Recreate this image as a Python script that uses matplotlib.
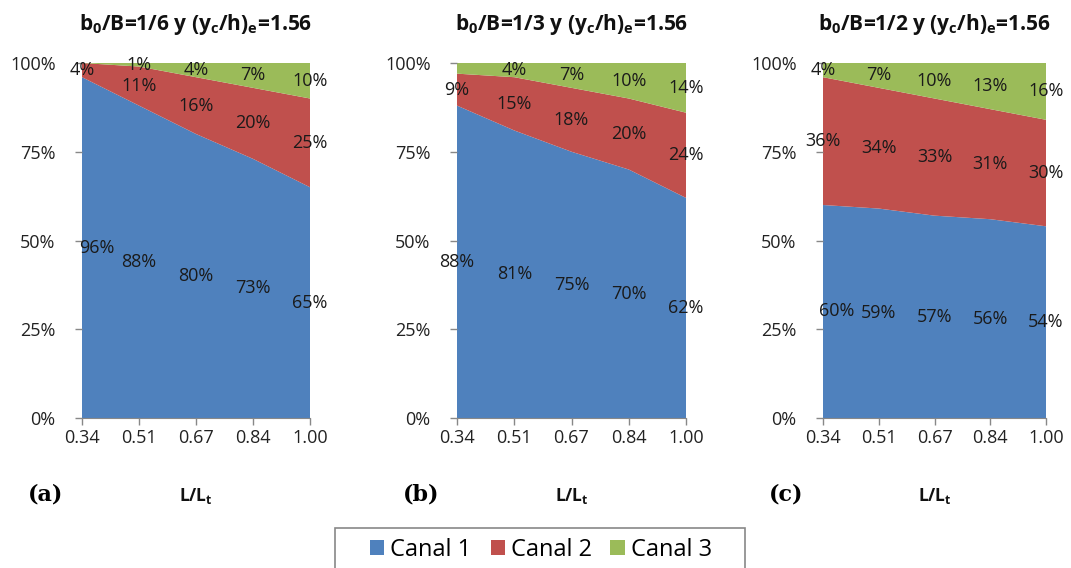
import numpy as np
import matplotlib
matplotlib.use("Agg")
import matplotlib.pyplot as plt
from matplotlib.patches import Patch, Rectangle

plt.rcParams['font.family'] = ['Open Sans', 'DejaVu Sans']
plt.rcParams['mathtext.default'] = 'regular'

# data
ticks = ["0.34", "0.51", "0.67", "0.84", "1.00"]
titles = [r"b$_0$/B=1/6 y (y$_c$/h)$_e$=1.56",
          r"b$_0$/B=1/3 y (y$_c$/h)$_e$=1.56",
          r"b$_0$/B=1/2 y (y$_c$/h)$_e$=1.56"]
panel_tags = ["(a)", "(b)", "(c)"]
canal1 = [[96, 88, 80, 73, 65],
          [88, 81, 75, 70, 62],
          [60, 59, 57, 56, 54]]
canal2 = [[4, 11, 16, 20, 25],
          [9, 15, 18, 20, 24],
          [36, 34, 33, 31, 30]]
canal3 = [[0, 1, 4, 7, 10],
          [3, 4, 7, 10, 14],
          [4, 7, 10, 13, 16]]
names = ["Canal 1", "Canal 2", "Canal 3"]
colors = ["#4F81BD", "#C0504D", "#9BBB59"]
# labels that the original chart does not show
hidden = {(0, 2, 0), (1, 2, 0)}
# labels nudged right in the original (points)
nudge = {(0, 0, 0): 11, (2, 0, 0): 10}

W, H = 1071, 568
fig = plt.figure(figsize=(W / 100, H / 100), dpi=100)

lefts = [82, 457, 823]
widths = [228, 229, 223]
bottom, top = 418, 63

for p in range(3):
    ax = fig.add_axes([lefts[p] / W, (H - bottom) / H, widths[p] / W, (bottom - top) / H])
    x = np.arange(len(ticks))
    series = [canal1[p], canal2[p], canal3[p]]
    ax.stackplot(x, *series, colors=colors, linewidth=0)
    base = np.zeros(len(ticks))
    for s, vals in enumerate(series):
        vals = np.array(vals, dtype=float)
        for i, v in enumerate(vals):
            if v == 0 or (p, s, i) in hidden:
                continue
            ax.annotate(f"{int(v)}%", (x[i], base[i] + v / 2),
                        xytext=(nudge.get((p, s, i), 0), 0), textcoords="offset points",
                        ha="center", va="center", fontsize=13, color="#1a1a1a")
        base += vals
    ax.set_xlim(0, len(ticks) - 1)
    ax.set_ylim(0, 100)
    ax.set_xticks(x)
    ax.set_xticklabels(ticks)
    ax.set_yticks([0, 25, 50, 75, 100])
    ax.set_yticklabels(["0%", "25%", "50%", "75%", "100%"])
    ax.tick_params(labelsize=13, colors="#888888", length=5, width=1, labelcolor="#222222")
    ax.tick_params(axis="x", pad=3)
    ax.tick_params(axis="y", pad=14)
    for sp in ["top", "right", "left"]:
        ax.spines[sp].set_visible(False)
    ax.spines["bottom"].set_color("#888888")
    ax.set_title(titles[p], fontsize=15, fontweight="bold", pad=24, color="#111111")
    ax.set_xlabel(r"L/L$_t$", fontsize=12.5, fontweight="bold", labelpad=28, color="#111111")
    fig.text((lefts[p] - 54) / W, (H - 495) / H, panel_tags[p], fontsize=16,
             fontweight="bold", family="DejaVu Serif", ha="left", va="center")

# legend box: wider than its entries and running off the bottom edge
fig.patches.append(Rectangle((335 / W, -0.02), 410 / W, (H - 528) / H + 0.02,
                             transform=fig.transFigure, facecolor="white",
                             edgecolor="#888888", linewidth=1.2))
handles = [Patch(facecolor=c, edgecolor="none") for c in colors]
fig.legend(handles, names, loc="center", bbox_to_anchor=(541 / W, 1 - 550 / H),
           ncol=3, fontsize=17, frameon=False, handlelength=0.6,
           handleheight=0.6, handletextpad=0.25, columnspacing=0.8, borderpad=0,
           borderaxespad=0)

fig.savefig("out.png", dpi=100)
